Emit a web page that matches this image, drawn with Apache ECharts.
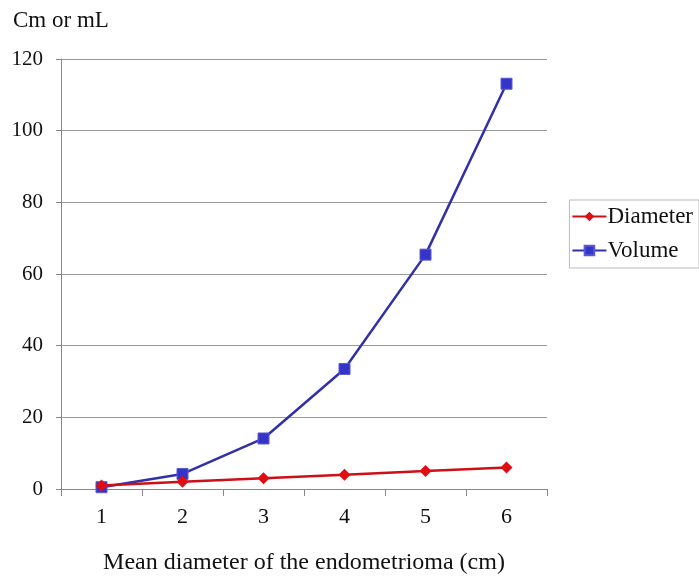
<!DOCTYPE html>
<html>
<head>
<meta charset="utf-8">
<script src="https://cdn.jsdelivr.net/npm/echarts@6/dist/echarts.min.js"></script>
<style>
  html, body { margin: 0; padding: 0; background: #ffffff; }
  #chart { width: 699px; height: 577px; }
</style>
</head>
<body>
<div id="chart"></div>
<script>
// Mean diameter (cm) of the endometrioma
const categories = ['1', '2', '3', '4', '5', '6'];
// Diameter in cm
const diameterValues = [1, 2, 3, 4, 5, 6];
// Volume in mL
const volumeValues = [0.5, 4.2, 14.1, 33.5, 65.4, 113.1];
const yTicks = { min: 0, max: 120, interval: 20 };

const serif = '"Liberation Serif", "DejaVu Serif", serif';
const chart = echarts.init(document.getElementById('chart'));

chart.setOption({
  animation: false,
  backgroundColor: '#ffffff',
  textStyle: { fontFamily: serif },
  title: {
    text: 'Cm or mL',
    left: 8,
    top: 4,
    textStyle: { fontFamily: serif, fontSize: 23, fontWeight: 'normal', color: '#111' }
  },
  grid: { left: 61, right: 152, top: 59, bottom: 88, containLabel: false, outerBoundsMode: 'none' },
  legend: {
    orient: 'vertical',
    right: 0,
    top: 200,
    itemGap: 11,
    itemWidth: 34,
    itemHeight: 12,
    padding: [5, 6, 6, 2],
    borderColor: '#bbbbbb',
    borderWidth: 1,
    textStyle: { fontFamily: serif, fontSize: 23, color: '#111', padding: [0, 0, 0, -4] },
    data: ['Diameter', 'Volume']
  },
  xAxis: {
    type: 'category',
    data: categories,
    boundaryGap: true,
    name: 'Mean diameter of the endometrioma (cm)',
    nameLocation: 'middle',
    nameGap: 62,
    nameTextStyle: { fontFamily: serif, fontSize: 24, color: '#111' },
    axisLine: { lineStyle: { color: '#888', width: 1 } },
    axisTick: { show: true, length: 7, inside: false, alignWithLabel: false, lineStyle: { color: '#888' } },
    axisLabel: { fontFamily: serif, fontSize: 22, color: '#111', margin: 17 },
    splitLine: { show: false }
  },
  yAxis: {
    type: 'value',
    min: yTicks.min,
    max: yTicks.max,
    interval: yTicks.interval,
    axisLine: { show: true, lineStyle: { color: '#888', width: 1 } },
    axisTick: { show: true, length: 5, lineStyle: { color: '#888' } },
    axisLabel: { fontFamily: serif, fontSize: 21, color: '#111', margin: 18 },
    splitLine: { show: true, lineStyle: { color: '#999', width: 1 } }
  },
  series: [
    {
      name: 'Diameter',
      type: 'line',
      data: diameterValues,
      symbol: 'diamond',
      symbolSize: 12,
      itemStyle: { color: '#e00d12' },
      lineStyle: { color: '#cc1018', width: 2.5 },
      z: 3
    },
    {
      name: 'Volume',
      type: 'line',
      data: volumeValues,
      symbol: 'rect',
      symbolSize: 11,
      itemStyle: { color: '#3434c8', borderColor: '#5a5ad0', borderWidth: 1 },
      lineStyle: { color: '#3030a8', width: 2.5 },
      z: 2
    }
  ]
});
</script>
</body>
</html>
